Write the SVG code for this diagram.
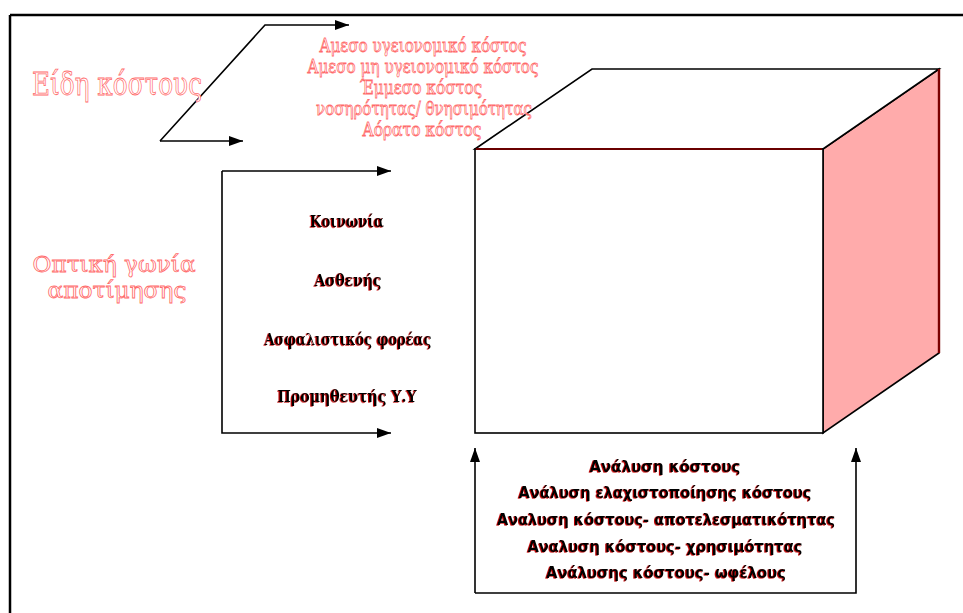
<svg xmlns="http://www.w3.org/2000/svg" width="963" height="613" viewBox="0 0 963 613">
<style>
.frame{stroke:#000;stroke-width:2.5;fill:none}
.conn{stroke:#000;stroke-width:1.6;fill:none}
.edge{stroke:#000;stroke-width:1.6;stroke-linejoin:miter}
.hollow{fill:#fff;stroke:#ff6b6b;stroke-width:0.8;font-family:"DejaVu Serif","Liberation Serif",serif;text-anchor:middle}
.persp{font-family:"DejaVu Serif","Liberation Serif",serif;font-weight:bold;font-size:17px;fill:#000;text-anchor:middle;filter:url(#redshadow)}
.anal{font-family:"DejaVu Sans","Liberation Sans",sans-serif;font-weight:bold;font-size:15px;fill:#000;text-anchor:middle;filter:url(#redshadow)}
</style>
<defs>
<marker id="arr" markerUnits="userSpaceOnUse" markerWidth="16" markerHeight="12" refX="14" refY="5" orient="auto">
<path d="M0,0 L14,5 L0,10 Z" fill="#000"/>
</marker>
<filter id="redshadow" x="-5%" y="-20%" width="110%" height="140%">
<feDropShadow dx="-1" dy="0.6" stdDeviation="0" flood-color="#c00000" flood-opacity="1"/>
</filter>
</defs>
<rect width="963" height="613" fill="#fff"/>
<g id="frame">
<line class="frame" x1="10" y1="15" x2="963" y2="15"/>
<line class="frame" x1="10" y1="15" x2="10" y2="613"/>
</g>
<g id="cube">
<polygon points="823,149 939,69 939,353 823,433" fill="#ffabab" class="edge"/>
<polygon points="475,149 592,69 939,69 823,149" fill="#fff" class="edge"/>
<rect x="475" y="149" width="348" height="284" fill="#fff" class="edge"/>
<line x1="939" y1="69" x2="939" y2="353" stroke="#7a0000" stroke-width="2.4"/>
<line x1="476" y1="149" x2="822" y2="149" stroke="#6a0000" stroke-width="1.8"/>
</g>
<g id="connectors">
<polyline class="conn" points="160,141 243,141" marker-end="url(#arr)"/>
<polyline class="conn" points="160,141 265,25 349,25" marker-end="url(#arr)"/>
<polyline class="conn" points="222,171 222,433 391,433" marker-end="url(#arr)"/>
<polyline class="conn" points="222,171 391,171" marker-end="url(#arr)"/>
<polyline class="conn" points="475,593 475,448" marker-end="url(#arr)"/>
<polyline class="conn" points="475,593 856,593 856,448" marker-end="url(#arr)"/>
</g>
<g id="eidi-kostous">
<text class="hollow" x="117" y="95" font-size="31" textLength="170" lengthAdjust="spacingAndGlyphs">Είδη κόστους</text>
</g>
<g id="cost-types">
<text class="hollow" x="423" y="52" font-size="18" textLength="207" lengthAdjust="spacingAndGlyphs">Αμεσο υγειονομικό κόστος</text>
<text class="hollow" x="423" y="73" font-size="18" textLength="231" lengthAdjust="spacingAndGlyphs">Αμεσο μη υγειονομικό κόστος</text>
<text class="hollow" x="421" y="94" font-size="18" textLength="122" lengthAdjust="spacingAndGlyphs">Έμμεσο κόστος</text>
<text class="hollow" x="424" y="115" font-size="18" textLength="216" lengthAdjust="spacingAndGlyphs">νοσηρότητας/ θνησιμότητας</text>
<text class="hollow" x="422" y="136" font-size="18" textLength="119" lengthAdjust="spacingAndGlyphs">Αόρατο κόστος</text>
</g>
<g id="optiki-gonia">
<text class="hollow" x="114" y="272" font-size="22" textLength="163" lengthAdjust="spacingAndGlyphs">Οπτική γωνία</text>
<text class="hollow" x="117" y="298" font-size="22" textLength="139" lengthAdjust="spacingAndGlyphs">αποτίμησης</text>
</g>
<g id="perspectives">
<text class="persp" x="347" y="227" textLength="74" lengthAdjust="spacingAndGlyphs">Κοινωνία</text>
<text class="persp" x="348" y="286" textLength="67" lengthAdjust="spacingAndGlyphs">Ασθενής</text>
<text class="persp" x="348" y="345" textLength="167" lengthAdjust="spacingAndGlyphs">Ασφαλιστικός φορέας</text>
<text class="persp" x="347" y="402" textLength="139" lengthAdjust="spacingAndGlyphs">Προμηθευτής Υ.Υ</text>
</g>
<g id="analyses">
<text class="anal" x="665" y="472" textLength="151" lengthAdjust="spacingAndGlyphs">Ανάλυση κόστους</text>
<text class="anal" x="665" y="498" textLength="293" lengthAdjust="spacingAndGlyphs">Ανάλυση ελαχιστοποίησης κόστους</text>
<text class="anal" x="666" y="525" textLength="338" lengthAdjust="spacingAndGlyphs">Αναλυση κόστους- αποτελεσματικότητας</text>
<text class="anal" x="665" y="552" textLength="275" lengthAdjust="spacingAndGlyphs">Αναλυση κόστους- χρησιμότητας</text>
<text class="anal" x="666" y="578" textLength="240" lengthAdjust="spacingAndGlyphs">Ανάλυσης κόστους- ωφέλους</text>
</g>
</svg>
